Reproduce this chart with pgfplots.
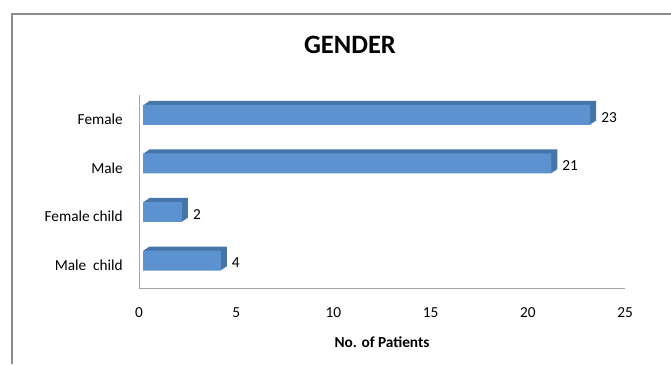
\documentclass[border=0pt]{standalone}
\usepackage{pgfplots}
\pgfplotsset{compat=1.18}
\usepackage{pgfplotstable}
\usepackage{fontspec}
\setmainfont{Carlito}
\definecolor{frontcol}{HTML}{5B92CF}
\definecolor{depthcol}{HTML}{4675AA}
\definecolor{axcol}{HTML}{A6A6A6}
\definecolor{framecol}{HTML}{8C8C8C}
\pgfplotstableread{
y v
0 4
1 2
2 21
3 23
}\gendertable
\begin{document}
\begin{tikzpicture}[x=1bp,y=1bp]
\useasboundingbox (0,0) rectangle (671,364);
\draw[framecol, line width=1.2bp] (12,0) -- (12,350) -- (671,350);
\node[font=\bfseries\fontsize{26.5bp}{31bp}\selectfont] at (350,319) {GENDER};
\begin{axis}[
  at={(139bp,76bp)}, anchor=south west,
  scale only axis, width=486bp, height=193bp,
  xmin=0, xmax=25, ymin=-0.567, ymax=3.412,
  axis lines*=left,
  axis line style={draw=axcol, line width=1bp, -},
  xtick={0,5,10,15,20,25},
  ytick={0,1,2,3},
  yticklabels={Male~\ child, Female child, Male, Female},
  major tick length=0pt,
  tick label style={font=\fontsize{15.3bp}{18bp}\selectfont},
  /pgf/number format/assume math mode=true,
  xticklabel style={anchor=north, inner sep=0pt, yshift=-19bp},
  yticklabel style={anchor=east, inner sep=0pt, xshift=-16bp, yshift=-4.5bp},
  xlabel={No. of Patients},
  xlabel style={at={(axis description cs:0.5,0)}, anchor=north, inner sep=0pt, yshift=-49bp, font=\bfseries\fontsize{15.3bp}{18bp}\selectfont},
  clip=false,
]
\addplot[xbar, bar width=20bp, fill=depthcol, draw=none, xshift=10bp, yshift=4bp] table[x=v,y=y] {\gendertable};
\addplot[xbar, bar width=20bp, fill=depthcol, draw=none, xshift=9bp, yshift=3.33bp] table[x=v,y=y] {\gendertable};
\addplot[xbar, bar width=20bp, fill=depthcol, draw=none, xshift=8bp, yshift=2.67bp] table[x=v,y=y] {\gendertable};
\addplot[xbar, bar width=20bp, fill=depthcol, draw=none, xshift=7bp, yshift=2bp] table[x=v,y=y] {\gendertable};
\addplot[xbar, bar width=20bp, fill=depthcol, draw=none, xshift=6bp, yshift=1.33bp] table[x=v,y=y] {\gendertable};
\addplot[xbar, bar width=20bp, fill=depthcol, draw=none, xshift=5bp, yshift=0.67bp] table[x=v,y=y] {\gendertable};
\addplot[xbar, bar width=20bp, fill=frontcol, draw=none, xshift=4bp] table[x=v,y=y] {\gendertable};
\addplot[xbar, bar width=20bp, draw=none, fill=none,
  nodes near coords,
  every node near coord/.append style={anchor=west, inner sep=0pt, xshift=15bp, yshift=-2.5bp, font=\fontsize{15.3bp}{18bp}\selectfont, text=black}
] table[x=v,y=y] {\gendertable};
\end{axis}
\end{tikzpicture}
\end{document}
